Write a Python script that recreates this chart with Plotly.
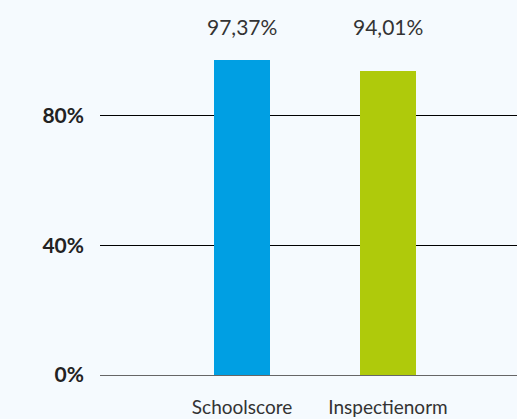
import plotly.graph_objects as go

# Chart data
categories = ["Schoolscore", "Inspectienorm"]
values = [97.37, 94.01]
bar_colors = ["#009FE3", "#AFCA0B"]
y_tickvals = [0, 40, 80]
y_ticktext = ["0%", "40%", "80%"]

FONT = "Lato"
BG = "#F5FAFE"


def fmt_pct(v):
    return f"{v:.2f}".replace(".", ",") + "%"


fig = go.Figure()
fig.add_trace(
    go.Bar(
        x=categories,
        y=values,
        marker=dict(color=bar_colors, line=dict(width=0)),
        width=0.383,
        hoverinfo="skip",
    )
)

# Value labels in a row above the bars
for cat, val in zip(categories, values):
    fig.add_annotation(
        x=cat,
        y=107.7,
        text=fmt_pct(val),
        showarrow=False,
        font=dict(family=FONT, size=21, color="#333333"),
        xanchor="center",
        yanchor="middle",
    )

fig.update_layout(
    width=517,
    height=419,
    margin=dict(l=100, r=0, t=0, b=44),
    paper_bgcolor=BG,
    plot_bgcolor=BG,
    showlegend=False,
    bargap=0,
    xaxis=dict(
        type="category",
        range=[-0.973, 1.884],
        showgrid=False,
        zeroline=False,
        showline=False,
        ticks="",
        ticklabelstandoff=19,
        tickfont=dict(family=FONT, size=19, color="#333333"),
        fixedrange=True,
    ),
    yaxis=dict(
        range=[0, 115.8],
        tickvals=y_tickvals,
        ticktext=y_ticktext,
        showgrid=True,
        gridcolor="#000000",
        gridwidth=1,
        zeroline=True,
        zerolinecolor="#666666",
        zerolinewidth=1,
        showline=False,
        ticks="",
        ticklabelstandoff=15,
        tickfont=dict(family=FONT, size=21, color="#222222", weight="bold"),
        fixedrange=True,
    ),
)

fig.write_html("out.html", config={"displayModeBar": False})
